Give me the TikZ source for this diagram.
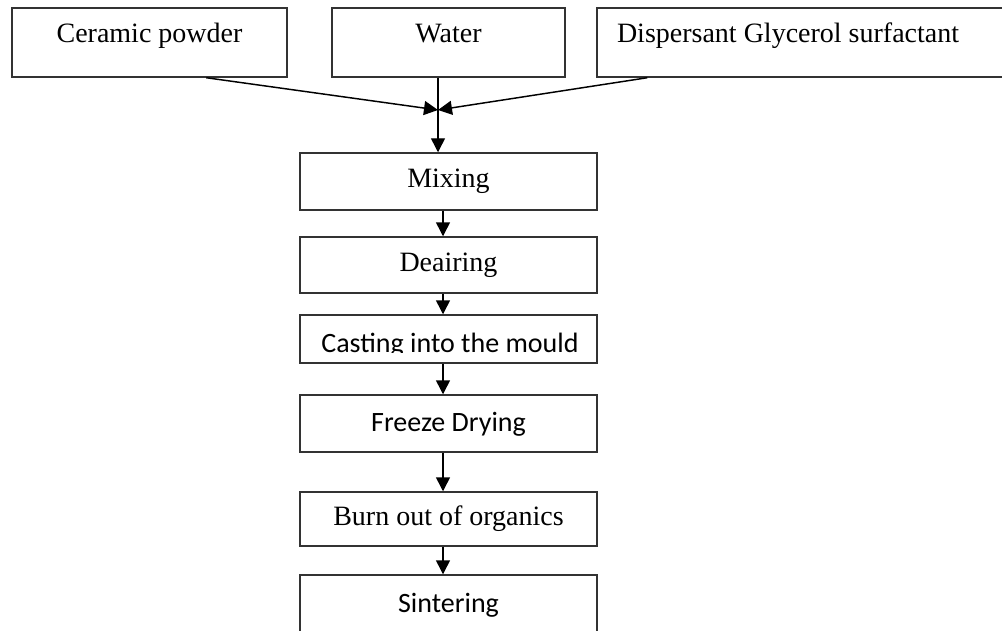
\documentclass[tikz,border=0pt]{standalone}
\usepackage{fontspec}
\setmainfont{Liberation Serif}
\newfontfamily\calibrifont{Carlito}
\usetikzlibrary{calc}
\usetikzlibrary{arrows.meta}

\begin{document}
\begin{tikzpicture}[x=0.75pt,y=-0.75pt]
\tikzstyle{top_box}=[rectangle, draw=black!80, line width=1.1pt, minimum height=51.75pt, inner sep=0pt, text height=10pt, text depth=10pt, font=\fontsize{21}{25}\selectfont];
\tikzstyle{step_box}=[rectangle, draw=black!80, line width=1.1pt, minimum width=222.75pt, inner sep=0pt, text height=14pt, text depth=5pt, font=\fontsize{21}{25}\selectfont];
\tikzstyle{sans_box}=[step_box, text height=15pt, text depth=3pt, font=\fontsize{21}{25}\calibrifont];
\tikzstyle{flow_arrow}=[draw, line width=1.1pt, -{Triangle[length=10.5pt,width=10.5pt]}];
\path [fill=white] (0,0) rectangle (1002,631);
\useasboundingbox (0,0) rectangle (1002,631);
\coordinate (join) at (438,110);
\coordinate (spine) at (443,0);
\node (ceramic) at (149.5,42.5) [style=top_box, minimum width=206.25pt] {Ceramic powder};
\node (water) at (448.5,42.5) [style=top_box, minimum width=174.75pt] {Water};
\node (dispersant) at (803.5,42.5) [style=top_box, inner xsep=15pt] {\makebox[279.75pt][l]{Dispersant Glycerol surfactant}};
\node (mixing) at (448.5,181.5) [style=step_box, minimum height=42.75pt] {Mixing};
\node (deairing) at (448.5,265) [style=step_box, minimum height=42pt] {Deairing};
\node (casting) at (448.5,339) [style=step_box, minimum height=36pt] {};
\begin{scope}
\clip (casting.north west) rectangle ($ (casting.east)+(0,13) $);
\node (casting_label) at (450,352.5) [anchor=base, inner sep=0pt, font=\fontsize{21}{25}\calibrifont] {Casting into the mould};
\end{scope}
\node (freeze) at (448.5,423.5) [style=sans_box, minimum height=42.75pt] {Freeze Drying};
\node (burn) at (448.5,519) [style=step_box, minimum height=40.5pt] {Burn out of organics};
\node (sintering) at (448.5,604) [style=sans_box, minimum height=43.5pt] {Sintering};
\path ($ (ceramic.south west)+(195,0) $) -- (join) [style=flow_arrow];
\path ($ (dispersant.south west)+(51,0) $) -- (join) [style=flow_arrow];
\path (join |- water.south) -- (join |- mixing.north) [style=flow_arrow];
\path (mixing.south -| spine) -- (deairing.north -| spine) [style=flow_arrow];
\path (deairing.south -| spine) -- (casting.north -| spine) [style=flow_arrow];
\path (casting.south -| spine) -- (freeze.north -| spine) [style=flow_arrow];
\path (freeze.south -| spine) -- (burn.north -| spine) [style=flow_arrow];
\path (burn.south -| spine) -- (sintering.north -| spine) [style=flow_arrow];
\end{tikzpicture}
\end{document}
